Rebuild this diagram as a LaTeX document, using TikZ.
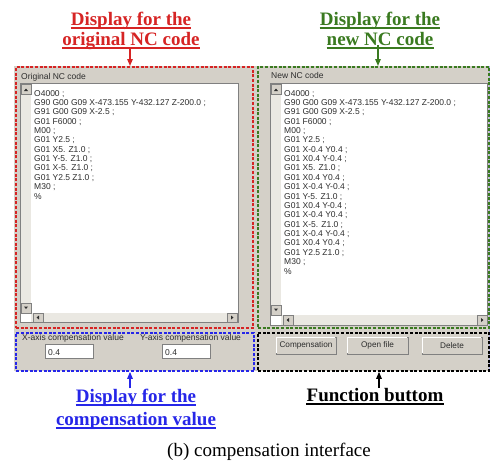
\documentclass[tikz,border=0pt]{standalone}
\usepackage{fontspec}
\setmainfont{Liberation Serif}
\newfontfamily\uifont{Liberation Sans}
\usetikzlibrary{arrows.meta,calc}

\definecolor{wingray}{RGB}{212,208,200}
\definecolor{trackgray}{RGB}{234,232,226}
\definecolor{edgedark}{RGB}{128,128,128}
\definecolor{uitext}{RGB}{45,45,45}
\definecolor{markred}{RGB}{214,36,36}
\definecolor{markgreen}{RGB}{58,122,32}
\definecolor{markblue}{RGB}{38,38,232}
\definecolor{frameblue}{RGB}{175,175,230}

\begin{document}
\begin{tikzpicture}[x=1pt,y=-1pt,
  ui/.style={font=\uifont\fontsize{8.5}{9.4}\selectfont, text=uitext, inner sep=0pt, anchor=base west},
  callout/.style={font=\bfseries\fontsize{19}{22}\selectfont, inner sep=0pt, anchor=base},
  underrule/.style={line width=1.7pt},
  zonebox/.style={line width=1.8pt, dash pattern=on 3pt off 1.6pt, inner sep=0pt, anchor=north west},
  pointer/.style={line width=1.3pt, -{Triangle[length=7pt,width=5.5pt]}},
  sunken/.style={fill=white, draw=edgedark, line width=0.8pt},
  sbtrack/.style={fill=trackgray},
  sbbtn/.style={fill=wingray, draw=edgedark, line width=0.5pt},
  glyph/.style={fill=uitext},
  winbtn/.style={font=\uifont\fontsize{8.2}{9.4}\selectfont, text=uitext, fill=wingray,
    draw=edgedark, line width=0.8pt, inner sep=0pt}
]
\useasboundingbox (0,0) rectangle (491,464);

% window background
\fill[wingray] (14,66) rectangle (489,371);
\draw[frameblue, line width=1pt] (489,66) -- (489,371);

% ---------- left pane: original code ----------
\node[ui] (origtitle) at (21,79) {Original NC code};
\draw[sunken] (20,83) rectangle (238,322);
\fill[sbtrack] (20.5,83.5) rectangle (31,313);
\fill[sbtrack] (31,313) rectangle (237.5,321.5);
\draw[sbbtn] (21,84.5) rectangle (31,94.5);
\fill[glyph] (24,91) -- (28,91) -- (26,88.5) -- cycle;
\draw[sbbtn] (21,303) rectangle (31,313);
\fill[glyph] (24,306.5) -- (28,306.5) -- (26,309) -- cycle;
\draw[sbbtn] (33,313) rectangle (43,322);
\fill[glyph] (39,315.5) -- (39,319.5) -- (36.5,317.5) -- cycle;
\draw[sbbtn] (227,313) rectangle (237,322);
\fill[glyph] (231,315.5) -- (231,319.5) -- (233.5,317.5) -- cycle;

\foreach \ln [count=\i] in {
  O4000 ;,
  G90 G00 G09 X-473.155 Y-432.127 Z-200.0 ;,
  G91 G00 G09 X-2.5 ;,
  G01 F6000 ;,
  M00 ;,
  G01 Y2.5 ;,
  G01 X5. Z1.0 ;,
  G01 Y-5. Z1.0 ;,
  G01 X-5. Z1.0 ;,
  G01 Y2.5 Z1.0 ;,
  M30 ;,
  \%}
  \node[ui] (origline\i) at (34,{96+9.37*(\i-1)}) {\ln};

% ---------- right pane: new code ----------
\node[ui] (newtitle) at (271,78) {New NC code};
\draw[sunken] (270,83) rectangle (487,325);
\fill[sbtrack] (270.5,83.5) rectangle (281,315);
\fill[sbtrack] (281,315) rectangle (486.5,324.5);
\draw[sbbtn] (271,84.5) rectangle (281,94.5);
\fill[glyph] (274,91) -- (278,91) -- (276,88.5) -- cycle;
\draw[sbbtn] (271,305) rectangle (281,315);
\fill[glyph] (274,308.5) -- (278,308.5) -- (276,311) -- cycle;
\draw[sbbtn] (283,315) rectangle (293,325);
\fill[glyph] (289,318) -- (289,322) -- (286.5,320) -- cycle;
\draw[sbbtn] (477,315) rectangle (487,325);
\fill[glyph] (481,318) -- (481,322) -- (483.5,320) -- cycle;

\foreach \ln [count=\i] in {
  O4000 ;,
  G90 G00 G09 X-473.155 Y-432.127 Z-200.0 ;,
  G91 G00 G09 X-2.5 ;,
  G01 F6000 ;,
  M00 ;,
  G01 Y2.5 ;,
  G01 X-0.4 Y0.4 ;,
  G01 X0.4 Y-0.4 ;,
  G01 X5. Z1.0 ;,
  G01 X0.4 Y0.4 ;,
  G01 X-0.4 Y-0.4 ;,
  G01 Y-5. Z1.0 ;,
  G01 X0.4 Y-0.4 ;,
  G01 X-0.4 Y0.4 ;,
  G01 X-5. Z1.0 ;,
  G01 X-0.4 Y-0.4 ;,
  G01 X0.4 Y0.4 ;,
  G01 Y2.5 Z1.0 ;,
  M30 ;,
  \%}
  \node[ui] (newline\i) at (284,{96+9.37*(\i-1)}) {\ln};

% ---------- compensation values ----------
\node[ui] (xlabel) at (22,340) {X-axis compensation value};
\node[ui] (ylabel) at (140,340) {Y-axis compensation value};
\draw[sunken] (45,344) rectangle (93,358);
\draw[sunken] (162,344) rectangle (210,358);
\node[ui] (xvalue) at (48,355) {0.4};
\node[ui] (yvalue) at (165,355) {0.4};

% ---------- buttons ----------
\node[winbtn, minimum width=60pt, minimum height=17pt] (btncomp) at (306,345.5) {Compensation};
\node[winbtn, minimum width=61pt, minimum height=17pt] (btnopen) at (377.5,345.5) {Open file};
\node[winbtn, minimum width=60pt, minimum height=17pt] (btndel) at (452,345.5) {Delete};
\foreach \b in {btncomp,btnopen,btndel}
  \draw[white, line width=0.8pt] ([shift={(1,-1)}]\b.south west) |- ([shift={(-1,1)}]\b.north east);

% ---------- dashed zones ----------
\node[zonebox, draw=markred, minimum width=237pt, minimum height=261pt] (origzone) at (15,66) {};
\node[zonebox, draw=markgreen, minimum width=231pt, minimum height=261pt] (newzone) at (257,66) {};
\node[zonebox, draw=markblue, minimum width=238pt, minimum height=38pt] (compzone) at (15,332) {};
\node[zonebox, draw=black, minimum width=231pt, minimum height=38pt] (funczone) at (257,332) {};

% ---------- callouts ----------
\node[callout, text=markred] (origA) at (131,25) {Display for the};
\node[callout, text=markred] (origB) at (131,45) {original NC code};
\node[callout, text=markgreen] (newA) at (380,25) {Display for the};
\node[callout, text=markgreen] (newB) at (380,45) {new NC code};
\node[callout, text=markblue] (compA) at (136,402) {Display for the};
\node[callout, text=markblue] (compB) at (136,425) {compensation value};
\node[callout, text=black] (funcA) at (375,401) {Function buttom};

% underlines, 3pt below each callout baseline
\foreach \cl/\cc in {origA/markred, origB/markred, newA/markgreen, newB/markgreen,
                     compA/markblue, compB/markblue, funcA/black}
  \draw[underrule, draw=\cc] ($(\cl.base west)+(0,3)$) -- ($(\cl.base east)+(0,3)$);

\draw[pointer, markred] ([xshift=-1pt]origB.south) -- ([xshift=-1pt]origB.south |- origzone.north);
\draw[pointer, markgreen] ([xshift=-2pt]newB.south) -- ([xshift=-2pt]newB.south |- newzone.north);
\draw[pointer, markblue] ([xshift=-6pt]compA.north) -- ([xshift=-6pt]compA.north |- compzone.south);
\draw[pointer, black] ([xshift=4pt]funcA.north) -- ([xshift=4pt]funcA.north |- funczone.south);

% caption
\node[font=\fontsize{19}{22}\selectfont, inner sep=0pt, anchor=base] (caption) at (269,456)
  {(b) compensation interface};
\end{tikzpicture}
\end{document}
